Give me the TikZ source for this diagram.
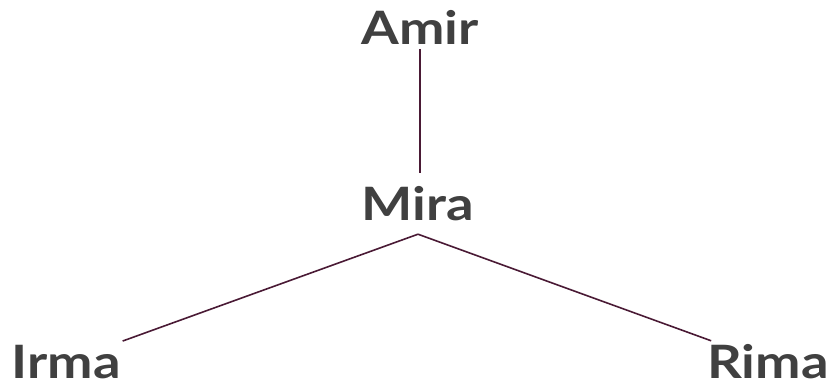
\documentclass[tikz,border=0pt]{standalone}
\usepackage{fontspec}
\setmainfont{Lato}[FakeStretch=1.18]
\definecolor{txt}{HTML}{404040}
\definecolor{edge}{HTML}{4A1A35}
\begin{document}
\begin{tikzpicture}[x=1pt,y=-1pt,
  person/.style={font=\fontsize{46}{50}\selectfont\bfseries, text=txt, text height=33pt, text depth=0pt, inner xsep=2pt, inner ysep=4pt, anchor=base},
  link/.style={draw=edge, line width=1.6pt}]
\useasboundingbox (0,0) rectangle (839,388);
\node[person] (amir) at (420,45) {Amir};
\node[person, inner ysep=14pt] (mira) at (418,220) {Mira};
\node[person, inner ysep=4pt] (irma) at (66,378) {Irma};
\node[person, inner ysep=4pt] (rima) at (768,378) {Rima};
\draw[link] (amir.south) -- (amir.south |- mira.north);
\draw[link] (mira.south) -- (irma);
\draw[link] (mira.south) -- (rima);
\end{tikzpicture}
\end{document}
